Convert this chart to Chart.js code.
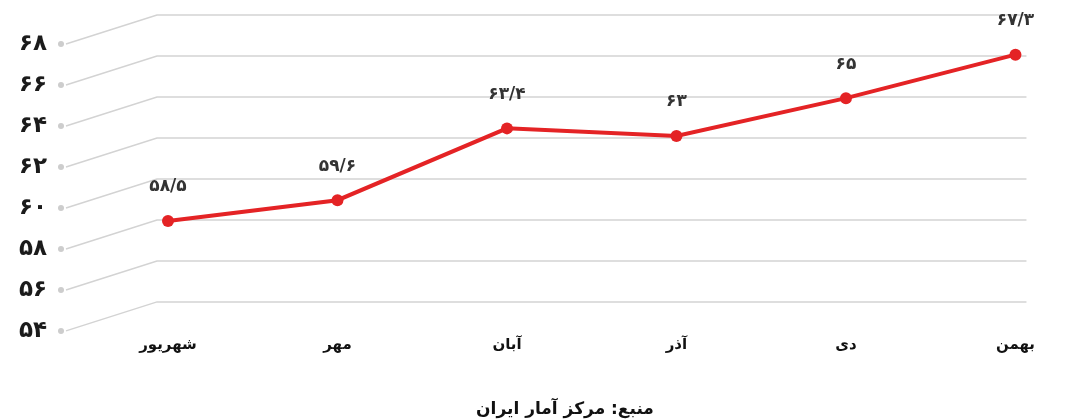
<!DOCTYPE html>
<html lang="fa">
<head>
<meta charset="utf-8">
<title>نرخ مشارکت</title>
<script src="https://cdn.jsdelivr.net/npm/chart.js@4.4.1/dist/chart.umd.min.js"></script>
<style>
    html, body { margin: 0; padding: 0; background: #fff; }
    #wrap { width: 1065px; height: 420px; }
</style>
</head>
<body>
<div id="wrap"><canvas id="chart" width="1065" height="420"></canvas></div>
<script>
'use strict';

const months = ['شهریور', 'مهر', 'آبان', 'آذر', 'دی', 'بهمن'];
const values = [58.5, 59.6, 63.4, 63, 65, 67.3];
const gridTicks = [54, 56, 58, 60, 62, 64, 66, 68];
const sourceText = 'منبع: مرکز آمار ایران';

const RED = '#e42325';
const GRID = '#d3d3d3';
const FONT = "'DejaVu Sans', sans-serif";

// 58.5 -> ۵۸/۵
const toFa = n => String(n).replace(/\d/g, d => '۰۱۲۳۴۵۶۷۸۹'[d]).replace('.', '/');

// back wall grid with slanted lines down to the front tick labels
const backdrop = {
    id: 'backdrop',
    beforeDatasetsDraw(chart) {
        const { ctx, chartArea, scales } = chart;
        const g = scales.yGrid;
        const left = chartArea.left - 11, right = chartArea.right + 11;
        const drop = 29;
        ctx.save();
        ctx.lineWidth = 1.5;
        ctx.strokeStyle = GRID;
        ctx.fillStyle = '#cdcdcd';
        gridTicks.forEach(v => {
            const y = g.getPixelForValue(v);
            ctx.beginPath();
            ctx.moveTo(66, y + drop);
            ctx.lineTo(left, y);
            ctx.lineTo(right, y);
            ctx.stroke();
            ctx.beginPath();
            ctx.arc(61, y + drop, 3, 0, Math.PI * 2);
            ctx.fill();
        });
        ctx.fillStyle = '#1b1b1b';
        ctx.font = `bold 23px ${FONT}`;
        ctx.textAlign = 'right';
        ctx.textBaseline = 'middle';
        gridTicks.forEach(v => ctx.fillText(toFa(v), 47, g.getPixelForValue(v) + drop));
        ctx.restore();
    },
    afterDatasetsDraw(chart) {
        const { ctx } = chart;
        const pts = chart.getDatasetMeta(0).data;
        ctx.save();
        ctx.fillStyle = '#333';
        ctx.font = `bold 17px ${FONT}`;
        ctx.textAlign = 'center';
        ctx.textBaseline = 'middle';
        pts.forEach((p, i) => ctx.fillText(toFa(values[i]), p.x, p.y - 34));
        ctx.fillStyle = '#111';
        ctx.font = `bold 17px ${FONT}`;
        ctx.fillText(sourceText, 565, 410);
        ctx.restore();
    }
};

new Chart(document.getElementById('chart'), {
    type: 'line',
    data: {
        labels: months,
        datasets: [{
            data: values,
            borderColor: RED,
            backgroundColor: RED,
            borderWidth: 4,
            pointRadius: 6,
            pointBorderWidth: 0,
            pointBackgroundColor: RED,
            tension: 0,
            clip: false
        }]
    },
    options: {
        responsive: false,
        animation: false,
        layout: { padding: { left: 168, right: 28, top: 15, bottom: 36 } },
        plugins: { legend: { display: false }, tooltip: { enabled: false } },
        scales: {
            x: {
                grid: { display: false, drawTicks: false },
                border: { display: false },
                ticks: { color: '#111', padding: 30, font: { family: FONT, size: 15, weight: 'bold' } }
            },
            y: { type: 'linear', display: false, min: 54, max: 69.4 },
            yGrid: { type: 'linear', display: false, min: 53.8, max: 68 }
        }
    },
    plugins: [backdrop]
});
</script>
</body>
</html>
